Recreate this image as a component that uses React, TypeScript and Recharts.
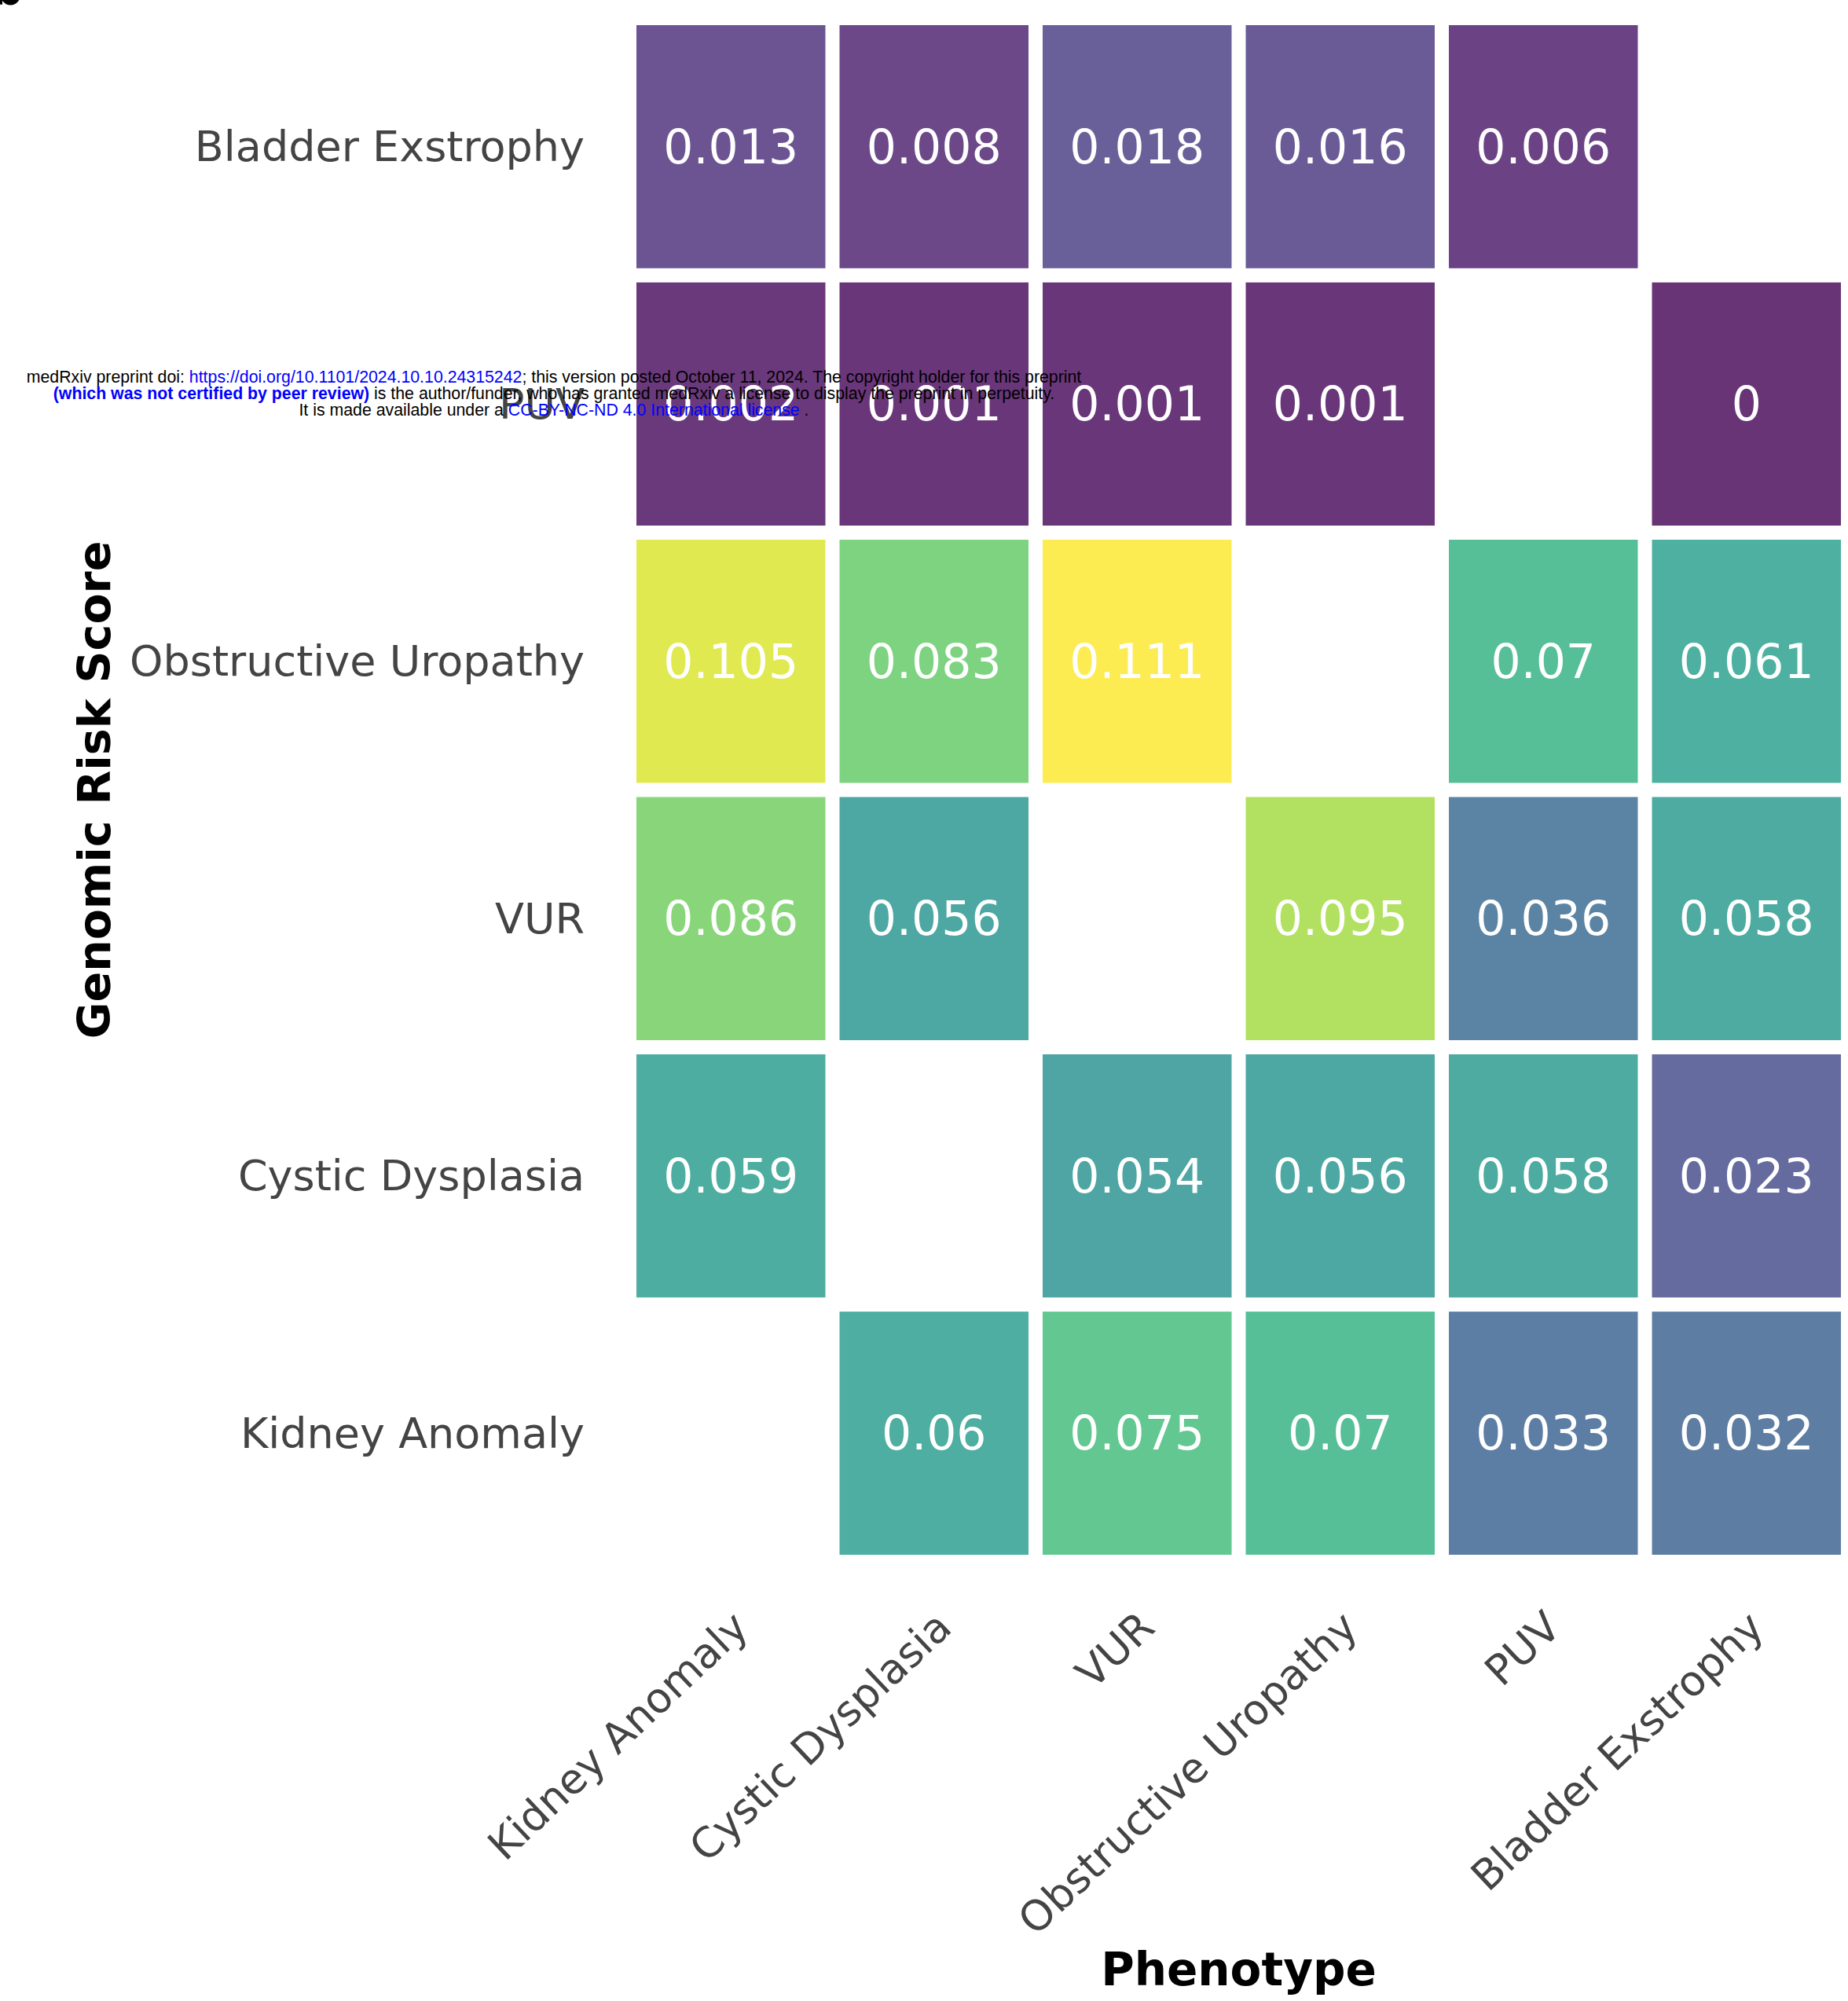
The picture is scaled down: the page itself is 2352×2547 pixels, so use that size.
import React from 'react';
import { ScatterChart, Scatter, XAxis, YAxis } from 'recharts';

// columns (x axis), left to right
const phenotypes = ['Kidney Anomaly', 'Cystic Dysplasia', 'VUR', 'Obstructive Uropathy', 'PUV', 'Bladder Exstrophy'];
// rows (y axis), top to bottom
const riskScores = ['Bladder Exstrophy', 'PUV', 'Obstructive Uropathy', 'VUR', 'Cystic Dysplasia', 'Kidney Anomaly'];

const bladderExstrophyRow = [0.013, 0.008, 0.018, 0.016, 0.006, null];
const puvRow = [0.002, 0.001, 0.001, 0.001, null, 0];
const obstructiveUropathyRow = [0.105, 0.083, 0.111, null, 0.07, 0.061];
const vurRow = [0.086, 0.056, null, 0.095, 0.036, 0.058];
const cysticDysplasiaRow = [0.059, null, 0.054, 0.056, 0.058, 0.023];
const kidneyAnomalyRow = [null, 0.06, 0.075, 0.07, 0.033, 0.032];

const rows = [bladderExstrophyRow, puvRow, obstructiveUropathyRow, vurRow, cysticDysplasiaRow, kidneyAnomalyRow];

const cells = rows
  .flatMap((row, r) => row.map((v, c) => (v === null ? null : { x: c, y: rows.length - 1 - r, value: v })))
  .filter(Boolean) as { x: number; y: number; value: number }[];

const vmax = Math.max(...cells.map((d) => d.value));

// viridis colormap stops
const VIRIDIS = ['#440154', '#482475', '#414487', '#355f8d', '#2a788e', '#21918c', '#22a884', '#44bf70', '#7ad151', '#bddf26', '#fde725'];

const hex = (h: string) => [1, 3, 5].map((i) => parseInt(h.slice(i, i + 2), 16));
const viridis = (t: number) => {
  const s = Math.max(0, Math.min(1, t)) * (VIRIDIS.length - 1);
  const i = Math.min(Math.floor(s), VIRIDIS.length - 2);
  const f = s - i;
  const a = hex(VIRIDIS[i]);
  const b = hex(VIRIDIS[i + 1]);
  return `rgb(${a.map((v, k) => Math.round(v + (b[k] - v) * f)).join(',')})`;
};

const W = 2352;
const H = 2547;
const MARGIN = { top: 23, right: 0, left: 30, bottom: 59 };
const Y_AXIS_W = 771;
const X_AXIS_H = 500;
const PLOT_W = W - MARGIN.left - Y_AXIS_W - MARGIN.right;
const PLOT_H = H - MARGIN.top - MARGIN.bottom - X_AXIS_H;
const GAP = 18;
const FONT = '"DejaVu Sans", sans-serif';

const HeatCell = (props: any) => {
  const { cx, cy, payload } = props;
  const w = PLOT_W / phenotypes.length - GAP;
  const h = PLOT_H / riskScores.length - GAP;
  return (
    <g>
      <rect x={cx - w / 2} y={cy - h / 2} width={w} height={h} fill={viridis(payload.value / vmax)} fillOpacity={0.8} />
      <text x={cx} y={cy} textAnchor="middle" dominantBaseline="central" fill="#fff" fontSize={60} fontFamily={FONT}>
        {String(payload.value)}
      </text>
    </g>
  );
};

const XTick = ({ x, y, payload }: any) => (
  <text
    transform={`translate(${x + 25},${y + 87}) rotate(-43.4)`}
    textAnchor="end"
    fontSize={53}
    fill="#444"
    fontFamily={FONT}
  >
    {phenotypes[payload.value]}
  </text>
);

const YTick = ({ x, y, payload }: any) => (
  <text x={x - 57} y={y} textAnchor="end" dominantBaseline="central" fontSize={54} fill="#444" fontFamily={FONT}>
    {riskScores[riskScores.length - 1 - payload.value]}
  </text>
);

const YLabel = ({ viewBox }: any) => {
  const x = viewBox.x + 110;
  const y = viewBox.y + viewBox.height / 2;
  return (
    <text x={x} y={y} transform={`rotate(-90,${x},${y})`} textAnchor="middle" fontSize={57} fontWeight="bold" fill="#000" fontFamily={FONT}>
      Genomic Risk Score
    </text>
  );
};

const XLabel = ({ viewBox }: any) => (
  <text x={viewBox.x + viewBox.width / 2} y={viewBox.y + 539} textAnchor="middle" fontSize={58} fontWeight="bold" fill="#000" fontFamily={FONT}>
    Phenotype
  </text>
);

const idx = phenotypes.map((_, i) => i);

export default function App() {
  return (
    <div style={{ position: 'absolute', left: 0, top: 0, width: W, height: H, background: '#fff' }}>
      <ScatterChart width={W} height={H} margin={MARGIN}>
        <XAxis
          type="number"
          dataKey="x"
          domain={[-0.5, 5.5]}
          ticks={idx}
          interval={0}
          height={X_AXIS_H}
          axisLine={false}
          tickLine={false}
          tickSize={0}
          tickMargin={0}
          tick={<XTick />}
          label={<XLabel />}
        />
        <YAxis
          type="number"
          dataKey="y"
          domain={[-0.5, 5.5]}
          ticks={idx}
          interval={0}
          width={Y_AXIS_W}
          axisLine={false}
          tickLine={false}
          tickSize={0}
          tickMargin={0}
          tick={<YTick />}
          label={<YLabel />}
        />
        <Scatter data={cells} shape={<HeatCell />} isAnimationActive={false} />
      </ScatterChart>

      <svg width={W} height={H} style={{ position: 'absolute', left: 0, top: 0, pointerEvents: 'none' }}>
        <text x={-12} y={6} fontSize={58} fontWeight="bold" fontFamily={FONT} fill="#000">b</text>
        <g fontFamily='"Liberation Sans", Arial, sans-serif' fontSize={21.3} textAnchor="middle">
          <text x={705} y={487} fill="#000">
            medRxiv preprint doi: <tspan fill="#0000ff">https://doi.org/10.1101/2024.10.10.24315242</tspan>; this version posted October 11, 2024. The copyright holder for this preprint
          </text>
          <text x={705} y={508} fill="#000">
            <tspan fill="#0000ff" fontWeight="bold">(which was not certified by peer review)</tspan> is the author/funder, who has granted medRxiv a license to display the preprint in perpetuity.
          </text>
          <text x={705} y={529} fill="#000">
            It is made available under a <tspan fill="#0000ff">CC-BY-NC-ND 4.0 International license</tspan> .
          </text>
        </g>
      </svg>
    </div>
  );
}
